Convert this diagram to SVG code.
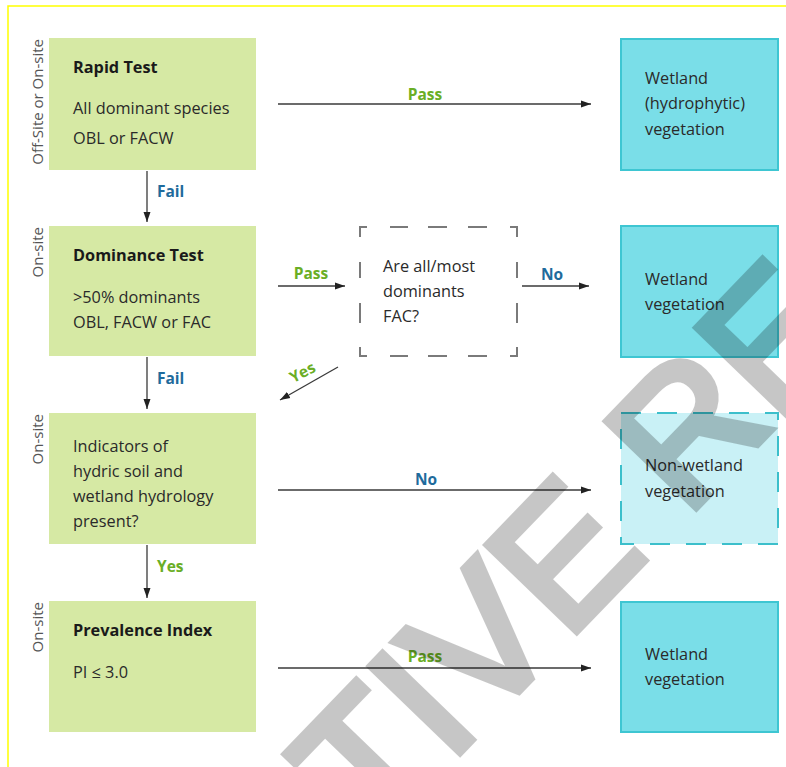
<svg xmlns="http://www.w3.org/2000/svg" width="786" height="767" viewBox="0 0 786 767">
<defs>
<marker id="ah" markerUnits="userSpaceOnUse" markerWidth="10" markerHeight="8" refX="10" refY="4" orient="auto">
<path d="M0,0.5 L10,4 L0,7.5 z" fill="#222"/>
</marker>
<style>
.g{fill:#d6e9a4;}
.c{fill:#7adee8;stroke:#3ec6d2;stroke-width:2;}
.cl{fill:#c9f1f6;stroke:#3cbfcb;stroke-width:2;stroke-dasharray:20 16;}
.t{font-family:"Open Sans","Noto Sans",sans-serif;font-size:16.3px;fill:#2a2a2a;}
.b{font-family:"Open Sans","Noto Sans",sans-serif;font-size:16.3px;font-weight:bold;fill:#1a1a1a;}
.side{font-family:"Open Sans","Noto Sans",sans-serif;font-size:15px;fill:#555;}
.lg{font-family:"Open Sans","Noto Sans",sans-serif;font-size:15.5px;font-weight:bold;fill:#6aae25;}
.lb{font-family:"Open Sans","Noto Sans",sans-serif;font-size:15.5px;font-weight:bold;fill:#1f6b9c;}
.ln{stroke:#3a3a3a;stroke-width:1.3;fill:none;marker-end:url(#ah);}
.dash{stroke:#7a7a7a;stroke-width:2;fill:none;}
</style>
</defs>
<rect x="0" y="0" width="786" height="767" fill="#fff"/>
<path d="M8,767 V6 H786" fill="none" stroke="#ffff00" stroke-width="1.5"/>

<g id="rapid">
<rect class="g" x="49" y="38" width="207" height="132"/>
<text class="b" x="73" y="73">Rapid Test</text>
<text class="t" x="73" y="114">All dominant species</text>
<text class="t" x="73" y="144">OBL or FACW</text>
<text class="side" transform="translate(43,39) rotate(-90)" text-anchor="end">Off-Site or On-site</text>
</g>
<g id="dominance">
<rect class="g" x="49" y="226" width="207" height="130"/>
<text class="b" x="73" y="261">Dominance Test</text>
<text class="t" x="73" y="303">&gt;50% dominants</text>
<text class="t" x="73" y="328">OBL, FACW or FAC</text>
<text class="side" transform="translate(43,227) rotate(-90)" text-anchor="end">On-site</text>
</g>
<g id="indicators">
<rect class="g" x="49" y="413" width="207" height="131"/>
<text class="t" x="73" y="452">Indicators of</text>
<text class="t" x="73" y="477">hydric soil and</text>
<text class="t" x="73" y="502">wetland hydrology</text>
<text class="t" x="73" y="527">present?</text>
<text class="side" transform="translate(43,414) rotate(-90)" text-anchor="end">On-site</text>
</g>
<g id="prevalence">
<rect class="g" x="49" y="601" width="207" height="131"/>
<text class="b" x="73" y="636">Prevalence Index</text>
<text class="t" x="73" y="678">PI ≤ 3.0</text>
<text class="side" transform="translate(43,602) rotate(-90)" text-anchor="end">On-site</text>
</g>
<g id="decision">
<path class="dash" d="M360,237 V227 H367 M390,227 H408 M428,227 H447 M468,227 H487 M510,227 H517 V237 M360,262 V278 M360,303 V323 M517,262 V278 M517,303 V323 M360,347 V356 H367 M390,356 H408 M428,356 H447 M468,356 H487 M510,356 H517 V347"/>
<text class="t" x="383" y="272">Are all/most</text>
<text class="t" x="383" y="297">dominants</text>
<text class="t" x="383" y="322">FAC?</text>
</g>
<g id="wetland1">
<rect class="c" x="621" y="39" width="157" height="131"/>
<text class="t" x="645" y="84">Wetland</text>
<text class="t" x="645" y="109">(hydrophytic)</text>
<text class="t" x="645" y="135">vegetation</text>
</g>
<g id="wetland2">
<rect class="c" x="621" y="226" width="157" height="131"/>
<text class="t" x="645" y="285">Wetland</text>
<text class="t" x="645" y="310">vegetation</text>
</g>
<g id="nonwetland">
<rect class="cl" x="621" y="413" width="157" height="131"/>
<text class="t" x="645" y="471">Non-wetland</text>
<text class="t" x="645" y="497">vegetation</text>
</g>
<g id="wetland3">
<rect class="c" x="621" y="602" width="157" height="130"/>
<text class="t" x="645" y="660">Wetland</text>
<text class="t" x="645" y="685">vegetation</text>
</g>

<g id="connectors">
<line class="ln" x1="278" y1="104" x2="591" y2="104"/>
<text class="lg" x="425" y="100" text-anchor="middle">Pass</text>
<line class="ln" x1="147" y1="171" x2="147" y2="222"/>
<text class="lb" x="157" y="197">Fail</text>
<line class="ln" x1="278" y1="286" x2="345" y2="286"/>
<text class="lg" x="311" y="279" text-anchor="middle">Pass</text>
<line class="ln" x1="522" y1="286" x2="589" y2="286"/>
<text class="lb" x="552" y="280" text-anchor="middle">No</text>
<line class="ln" x1="147" y1="357" x2="147" y2="409"/>
<text class="lb" x="157" y="384">Fail</text>
<line class="ln" x1="338" y1="367" x2="280" y2="400"/>
<text class="lg" transform="translate(305,377) rotate(-28)" text-anchor="middle">Yes</text>
<line class="ln" x1="278" y1="490" x2="591" y2="490"/>
<text class="lb" x="426" y="485" text-anchor="middle">No</text>
<line class="ln" x1="147" y1="545" x2="147" y2="598"/>
<text class="lg" x="157" y="572">Yes</text>
<line class="ln" x1="278" y1="668" x2="591" y2="668"/>
<text class="lg" x="425" y="662" text-anchor="middle">Pass</text>
</g>

<g id="watermark" opacity="0.22">
<text transform="translate(372,843) rotate(-46)" font-family="Liberation Sans, Arial, sans-serif" font-size="180" fill="#000" stroke="#000" stroke-width="8" stroke-linejoin="miter">TIVE<tspan dx="52">RE</tspan></text>
</g>
</svg>
